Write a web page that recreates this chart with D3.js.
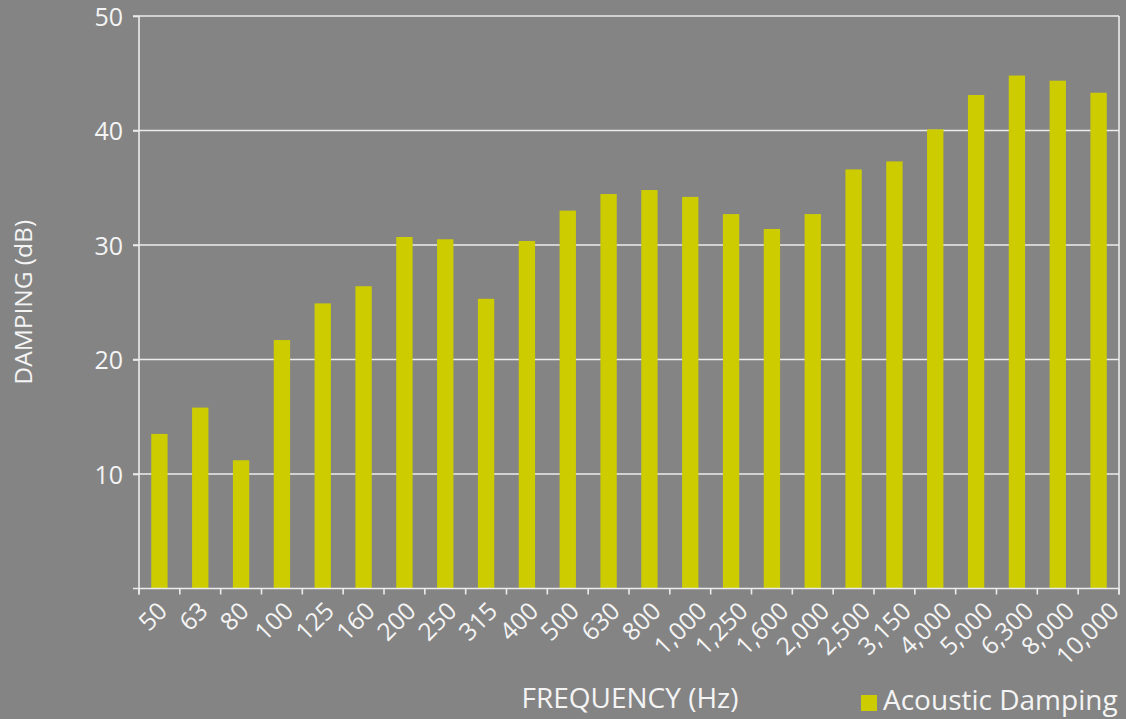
<!DOCTYPE html>
<html>
<head>
<meta charset="utf-8">
<script src="https://cdn.jsdelivr.net/npm/d3@7"></script>
<style>
  html, body { margin: 0; padding: 0; background: #848484; }
  svg { display: block; font-family: "Open Sans", sans-serif; }
</style>
</head>
<body>
<div id="container"></div>
<script>
/**
 * DATA
 * */
const frequencies = ["50", "63", "80", "100", "125", "160", "200", "250", "315", "400",
  "500", "630", "800", "1,000", "1,250", "1,600", "2,000", "2,500", "3,150", "4,000",
  "5,000", "6,300", "8,000", "10,000"];
const damping = [13.5, 15.8, 11.2, 21.7, 24.9, 26.4, 30.7, 30.5, 25.3, 30.35,
  33.0, 34.45, 34.8, 34.2, 32.7, 31.4, 32.7, 36.6, 37.3, 40.1,
  43.1, 44.8, 44.35, 43.3];
const yTicks = [10, 20, 30, 40, 50];
const seriesName = "Acoustic Damping";

/**
 * CONSTANTS
 * */
const width = 1126,
  height = 719,
  margin = {top: 16, bottom: 130.5, left: 139, right: 7};

const barColor = "#cccc00",
  lineColor = "#ececec",
  textColor = "#f4f4f4";

const svg = d3.select("#container")
  .append("svg")
  .attr("width", width)
  .attr("height", height);

const x = d3.scaleBand()
  .domain(frequencies)
  .range([margin.left, width - margin.right])
  .paddingInner(0.6)
  .paddingOuter(0.3);

const y = d3.scaleLinear()
  .domain([0, 50])
  .range([height - margin.bottom, margin.top]);

const x0 = margin.left, x1 = width - margin.right, yBase = y(0);

// gridlines
svg.append("g")
  .selectAll("line")
  .data(yTicks)
  .join("line")
  .attr("x1", x0 - 6)
  .attr("x2", x1)
  .attr("y1", d => y(d))
  .attr("y2", d => y(d))
  .attr("stroke", lineColor)
  .attr("stroke-width", 1.6);

// right border
svg.append("line")
  .attr("x1", x1).attr("x2", x1)
  .attr("y1", y(50)).attr("y2", yBase + 6)
  .attr("stroke", lineColor)
  .attr("stroke-width", 1.6);

// bars
svg.append("g")
  .selectAll("rect")
  .data(frequencies)
  .join("rect")
  .attr("x", d => x(d))
  .attr("width", x.bandwidth())
  .attr("y", (d, i) => y(damping[i]))
  .attr("height", (d, i) => yBase - y(damping[i]))
  .attr("fill", barColor);

// y axis
const yAxis = svg.append("g")
  .attr("transform", `translate(${x0},0)`)
  .call(d3.axisLeft(y).tickValues(yTicks).tickSize(6).tickPadding(10));
yAxis.select(".domain").remove();
yAxis.selectAll(".tick line").attr("stroke", lineColor).attr("stroke-width", 1.6);
yAxis.selectAll(".tick text")
  .attr("fill", textColor)
  .attr("dy", "0.36em")
  .style("font-size", "25px")
  .style("font-family", "'Open Sans', sans-serif");
yAxis.append("line")
  .attr("y1", y(50)).attr("y2", yBase + 6)
  .attr("stroke", lineColor)
  .attr("stroke-width", 1.6);

// x axis line + ticks at band edges
const edges = frequencies.map(d => x(d) - x.step() * x.paddingInner() / 2);
edges[0] = x0;
edges.push(x1);
svg.append("line")
  .attr("x1", x0 - 6).attr("x2", x1)
  .attr("y1", yBase).attr("y2", yBase)
  .attr("stroke", lineColor)
  .attr("stroke-width", 1.6);
svg.append("g")
  .selectAll("line")
  .data(edges)
  .join("line")
  .attr("x1", d => d).attr("x2", d => d)
  .attr("y1", yBase).attr("y2", yBase + 6)
  .attr("stroke", lineColor)
  .attr("stroke-width", 1.6);

// rotated category labels
const labels = svg.append("g")
  .selectAll("text")
  .data(frequencies)
  .join("text")
  .text(d => d)
  .attr("fill", textColor)
  .attr("text-anchor", "end")
  .style("font-size", "24.5px");
labels.each(function(d) {
  const len = this.getComputedTextLength();
  const cx = x(d) + x.bandwidth() / 2 + 2 + 0.26 * len;
  d3.select(this).attr("transform", `translate(${cx},${yBase + 24}) rotate(-45)`);
});

// axis titles
svg.append("text")
  .attr("x", 630)
  .attr("y", 708)
  .attr("text-anchor", "middle")
  .attr("fill", textColor)
  .style("font-size", "28px")
  .text("FREQUENCY (Hz)");

svg.append("text")
  .attr("transform", `translate(32,${(y(50) + yBase) / 2}) rotate(-90)`)
  .attr("text-anchor", "middle")
  .attr("fill", textColor)
  .style("font-size", "24.5px")
  .text("DAMPING (dB)");

// legend
const legend = svg.append("g").attr("transform", "translate(861,695)");
legend.append("rect")
  .attr("width", 16)
  .attr("height", 16)
  .attr("fill", barColor);
legend.append("text")
  .attr("x", 22)
  .attr("y", 14.5)
  .attr("fill", textColor)
  .style("font-size", "28px")
  .text(seriesName);
</script>
</body>
</html>
